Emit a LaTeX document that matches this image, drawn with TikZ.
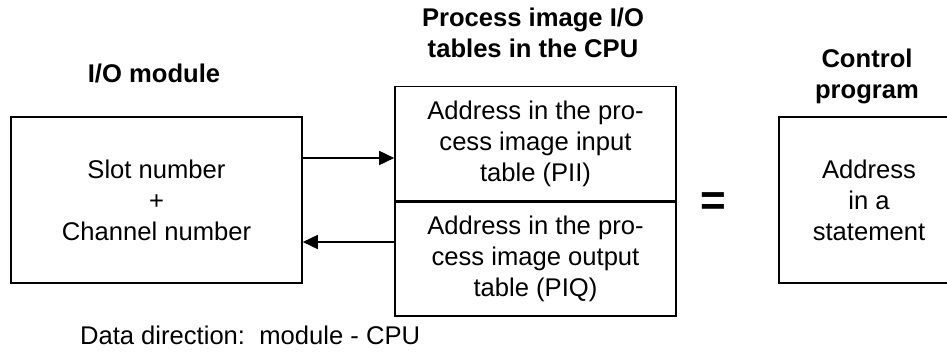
\documentclass[tikz,border=0pt]{standalone}
\usepackage{fontspec}
\setmainfont{Liberation Sans}
\usetikzlibrary{arrows.meta,positioning}

\begin{document}
\begin{tikzpicture}[
    x=0.5pt,
    y=-0.5pt,
    font=\fontsize{12.8}{15.5}\selectfont,
    heading/.style={align=center,font=\fontsize{12.8}{15.5}\selectfont\bfseries},
    unitbox/.style={draw=black,line width=0.8pt,align=center,inner sep=0pt},
    tablebox/.style={unitbox,minimum width=140.5pt,minimum height=57pt},
    flow/.style={-{Triangle[length=7.5pt,width=7pt]},draw=black,line width=0.8pt}
  ]
    \useasboundingbox (0,0) rectangle (947,353);
    \clip (0,0) rectangle (947,353);

    \node[heading] (iotitle) at (154,73) {I/O module};
    \node[heading] (cputitle) at (533,33) {Process image I/O\\tables in the CPU};
    \node[heading] (progtitle) at (867,76) {Control\\program};

    \node[unitbox,minimum width=145.5pt,minimum height=83pt] (iomod) at (156.5,200)
      {Slot number\\+\\Channel number};

    \node[tablebox] (pii) at (535.5,143.5) {Address in the pro-\\cess image input\\table (PII)};
    \node[tablebox,below=0pt of pii] (piq) {Address in the pro-\\cess image output\\table (PIQ)};

    \node[font=\fontsize{22}{22}\selectfont\bfseries] (equal) at (713,204) {=};

    % right side of this box falls off the page
    \node[unitbox,minimum width=90pt,minimum height=83pt] (statement) at (869,200)
      {Address\\in a\\statement};

    \draw[flow] ([yshift=21pt]iomod.east) -- ([yshift=21pt]iomod.east -| pii.west);
    \draw[flow] ([yshift=-21pt]iomod.east -| piq.west) -- ([yshift=-21pt]iomod.east);

    \node[anchor=west] (direction) at (73,335) {Data direction:\ \ module - CPU};
  \end{tikzpicture}
\end{document}
